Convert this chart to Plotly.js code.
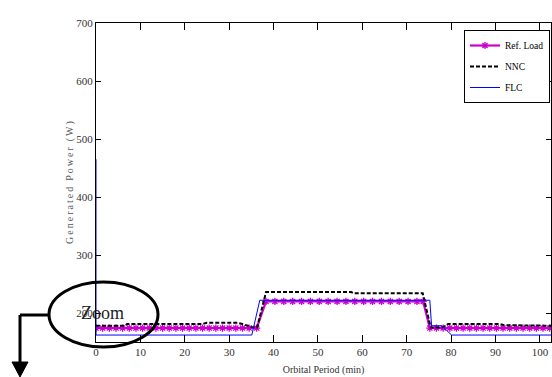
<!DOCTYPE html>
<html>
<head>
<meta charset="utf-8">
<script src="https://cdn.plot.ly/plotly-3.0.1.min.js"></script>
<style>html,body{margin:0;padding:0;background:#fff;}#chart{width:552px;height:377px;}</style>
</head>
<body>
<div id="chart"></div>
<script>
// ---- data ----
const refX = [0,1.5,3,4.5,6,7.5,9,10.5,12,13.5,15,16.5,18,19.5,21,22.5,24,25.5,27,28.5,30,31.5,33,34.5,36.2,
              38.3,40.3,42.3,44.3,46.3,48.3,50.3,52.3,54.3,56.3,58.3,60.3,62.3,64.3,66.3,68.3,70.3,72.3,73.7,
              75.2,76.7,78.2,79.7,81.2,82.7,84.2,85.7,87.2,88.7,90.2,91.7,93.2,94.7,96.2,97.7,99.2,100.7,102.2];
const refY = [174,174,174,174,174,174,174,174,174,174,174,174,174,174,174,174,174,174,174,174,174,174,174,174,174,
              220,220,220,220,220,220,220,220,220,220,220,220,220,220,220,220,220,220,220,
              174,174,174,174,174,174,174,174,174,174,174,174,174,174,174,174,174,174,174];
const nncX = [0,6.5,7,24,25,32,33,35,36.3,38.3,57.5,58,73.6,75.4,78,79.3,91,92,102.7];
const nncY = [178,178,181,181,183,183,181,176,175,236,236,234,234,175,175,181,181,179,178];
const flcX = [0,0,35.1,36.9,75.2,75.6,77.9,80.1,102.7];
const flcY = [465,162,162,222,222,178,178,162,162];
const xTicks = [0,10,20,30,40,50,60,70,80,90,100];
const yTicks = [200,300,400,500,600,700];
const names = ['Ref. Load','NNC','FLC'];
const xTitle = 'Orbital Period (min)';
const yTitle = 'Generated Power (W)';
const zoomLabel = 'Zoom';

// ---- geometry helpers (pixel -> paper) ----
const W = 552, H = 377, L = 96, R = 1, T = 23, B = 35;
const pw = W - L - R, ph = H - T - B;
const px = v => (v - L) / pw;
const py = v => (H - B - v) / ph;

// letter-spaced y title (thin spaces between letters)
const spaced = yTitle.split(' ').map(w => w.split('').join('\u2009')).join('\u2009\u2009\u2009');

const traces = [
  {x: refX, y: refY, name: names[0], legendgroup: 'a', mode: 'lines+markers', type: 'scatter',
   line: {color: '#cc00cc', width: 2.2},
   marker: {symbol: 'asterisk-open', size: 6, color: '#cc00cc', line: {color: '#cc00cc', width: 1.3}}},
  {x: nncX, y: nncY, name: names[1], legendgroup: 'b', mode: 'lines', type: 'scatter',
   line: {color: '#000', width: 2, dash: '4px,2px'}},
  {x: flcX, y: flcY, name: names[2], legendgroup: 'c', mode: 'lines', type: 'scatter',
   line: {color: '#0000ff', width: 1}}
];

const serif = 'Liberation Serif';
const layout = {
  width: W, height: H,
  margin: {l: L, r: R, t: T, b: B, pad: 0},
  paper_bgcolor: '#fff', plot_bgcolor: '#fff',
  showlegend: true,
  font: {family: serif, size: 11, color: '#222'},
  xaxis: {
    range: [0, 102.5], tickvals: xTicks, ticktext: xTicks.map(String),
    ticks: 'inside', ticklen: 7, tickwidth: 1, tickcolor: '#000',
    showline: true, linecolor: '#000', linewidth: 1, mirror: 'ticks',
    showgrid: false, zeroline: false,
    tickfont: {family: serif, size: 11, color: '#333'},
    title: {text: xTitle, font: {family: serif, size: 10, color: '#333'}, standoff: 8}
  },
  yaxis: {
    range: [150, 700], tickvals: yTicks, ticktext: yTicks.map(String),
    ticks: 'inside', ticklen: 5, tickwidth: 1, tickcolor: '#000',
    showline: true, linecolor: '#000', linewidth: 1, mirror: 'ticks',
    showgrid: false, zeroline: false,
    tickfont: {family: serif, size: 11, color: '#333'},
    title: {text: spaced, font: {family: serif, size: 10, color: '#555'}, standoff: 0}
  },
  legend: {
    x: px(550), y: py(30), xanchor: 'right', yanchor: 'top',
    bgcolor: '#fff', bordercolor: '#000', borderwidth: 1,
    font: {family: serif, size: 9.5, color: '#000'},
    itemwidth: 30, tracegroupgap: 2, traceorder: 'grouped'
  },
  shapes: [
    {type: 'circle', xref: 'paper', yref: 'paper', x0: px(49), x1: px(158), y0: py(347), y1: py(282),
     line: {color: '#000', width: 3}},
    {type: 'line', xref: 'paper', yref: 'paper', x0: px(20), x1: px(49), y0: py(315), y1: py(315),
     line: {color: '#000', width: 3}},
    {type: 'line', xref: 'paper', yref: 'paper', x0: px(20), x1: px(20), y0: py(315), y1: py(364),
     line: {color: '#000', width: 3}},
    {type: 'path', xref: 'paper', yref: 'paper',
     path: 'M ' + px(12) + ' ' + py(362) + ' L ' + px(28) + ' ' + py(362) + ' L ' + px(20) + ' ' + py(377) + ' Z',
     fillcolor: '#000', line: {color: '#000', width: 1}}
  ],
  annotations: [
    {text: zoomLabel, xref: 'paper', yref: 'paper', x: px(102), y: py(313), xanchor: 'center', yanchor: 'middle',
     showarrow: false, font: {family: serif, size: 18, color: '#222'}}
  ]
};

Plotly.newPlot('chart', traces, layout, {displayModeBar: false, staticPlot: true});
</script>
</body>
</html>
